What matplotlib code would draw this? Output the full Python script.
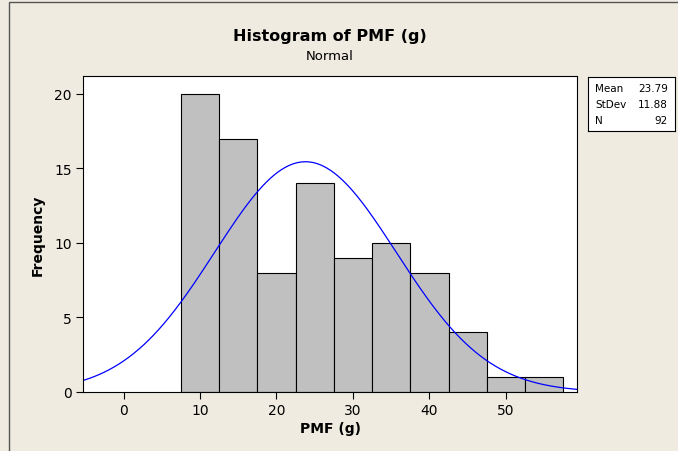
import numpy as np
import matplotlib
matplotlib.use("Agg")
import matplotlib.pyplot as plt
from matplotlib.patches import Rectangle

# histogram data
bin_edges = [7.5, 12.5, 17.5, 22.5, 27.5, 32.5, 37.5, 42.5, 47.5, 52.5, 57.5]
counts = [20, 17, 8, 14, 9, 10, 8, 4, 1, 1]
mean = 23.79
stdev = 11.88
n = 92

stat_names = ["Mean", "StDev", "N"]
stat_values = ["23.79", "11.88", "92"]

plt.rcParams["font.family"] = ["DejaVu Sans"]

W, H = 678, 452
fig = plt.figure(figsize=(W / 100, H / 100), dpi=100)
fig.patch.set_facecolor("#EFEBE0")

# outer frame
fig.patches.append(Rectangle((9 / W, -0.1), 1.2, (H - 3) / H + 0.1, transform=fig.transFigure,
                             fill=False, edgecolor="#555555", linewidth=1.0))

ax = fig.add_axes([83 / W, 1 - 393 / H, (577 - 83) / W, (393 - 77) / H])
ax.set_facecolor("white")

widths = np.diff(bin_edges)
ax.bar(bin_edges[:-1], counts, width=widths, align="edge", color="#C0C0C0",
       edgecolor="black", linewidth=0.8)

x = np.linspace(-5.3, 59.3, 400)
binw = widths[0]
y = n * binw / (stdev * np.sqrt(2 * np.pi)) * np.exp(-0.5 * ((x - mean) / stdev) ** 2)
ax.plot(x, y, color="#0000FF", linewidth=0.9)

ax.set_xlim(-5.3, 59.3)
ax.set_ylim(0, 21.2)
ax.set_xticks([0, 10, 20, 30, 40, 50])
ax.set_yticks([0, 5, 10, 15, 20])
ax.tick_params(direction="out", length=5, width=0.8, labelsize=10, pad=3)
for s in ax.spines.values():
    s.set_linewidth(0.8)

ax.set_xlabel("PMF (g)", fontsize=10, fontweight="bold", labelpad=3)
ax.set_ylabel("Frequency", fontsize=10, fontweight="bold", labelpad=7)

fig.text(330 / W, 1 - 37 / H, "Histogram of PMF (g)", ha="center", va="center",
         fontsize=11.5, fontweight="bold")
fig.text(330 / W, 1 - 56 / H, "Normal", ha="center", va="center", fontsize=9.5)

# stats box
box = fig.add_axes([588 / W, 1 - 132 / H, (675 - 588) / W, (132 - 78) / H])
box.set_xticks([])
box.set_yticks([])
box.set_facecolor("white")
for s in box.spines.values():
    s.set_linewidth(0.8)
for i, (nm, v) in enumerate(zip(stat_names, stat_values)):
    yy = 0.8 - i * 0.3
    box.text(0.08, yy, nm, transform=box.transAxes, ha="left", va="center", fontsize=7.5)
    box.text(0.92, yy, v, transform=box.transAxes, ha="right", va="center", fontsize=7.5)

fig.savefig("out.png", dpi=100, facecolor=fig.get_facecolor())
